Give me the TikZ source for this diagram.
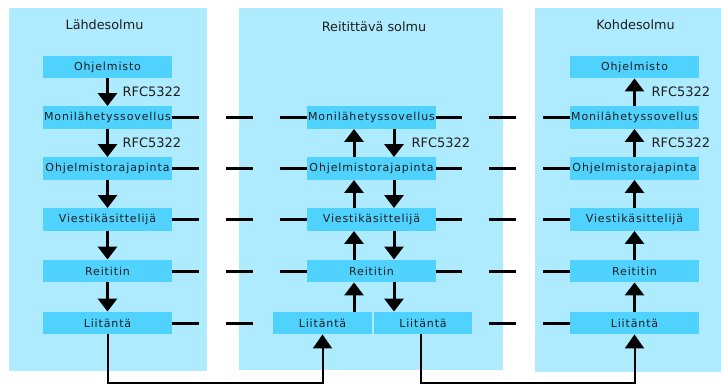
\documentclass[tikz,border=0pt]{standalone}
\usepackage{fontspec}
\setmainfont{DejaVu Sans}
\newfontfamily\boxfont[LetterSpace=8]{DejaVu Sans}
\usepackage{tikz}
\usetikzlibrary{arrows.meta}
\definecolor{panelblue}{RGB}{175,235,255}
\definecolor{boxblue}{RGB}{80,210,255}
\definecolor{textgray}{RGB}{30,30,30}

\begin{document}
\begin{tikzpicture}[x = 1pt, y = -1pt, text = textgray,
        layer/.style = {fill = boxblue, minimum width = 129pt, minimum height = 22.5pt, inner sep = 0pt,
            font = \boxfont\fontsize{11}{13}\selectfont},
        halfbox/.style = {layer, minimum width = 98.5pt},
        title/.style = {anchor = base, inner sep = 0pt, font = \fontsize{12.8}{15}\selectfont},
        rfc/.style = {inner sep = 0pt, font = \fontsize{13}{15}\selectfont},
        flow/.style = {line width = 3pt, -{Triangle[width = 19pt, length = 13pt]}},
        wire/.style = {line width = 2pt, -{Triangle[width = 19pt, length = 14pt]}},
        peer/.style = {line width = 3pt, dash pattern = on 27pt off 27pt}]
        \useasboundingbox (0,0) rectangle (721,385);

        \fill [panelblue] (9,8) rectangle (207,371);
        \fill [panelblue] (239,8) rectangle (503,370);
        \fill [panelblue] (535,8) rectangle (721,372);

        \node [title] (srctitle) at (104.5,30) {Lähdesolmu};
        \node [title] (midtitle) at (374,31.5) {Reitittävä solmu};
        \node [title] (dsttitle) at (635.5,29.3) {Kohdesolmu};

        \node [layer] (l1) at (107.5,67) {Ohjelmisto};
        \node [layer] (l2) at (107.5,117.5) {Monilähetyssovellus};
        \node [layer] (l3) at (107.5,168.5) {Ohjelmistorajapinta};
        \node [layer] (l4) at (107.5,219.5) {Viestikäsittelijä};
        \node [layer] (l5) at (107.5,271) {Reititin};
        \node [layer] (l6) at (107.5,323) {Liitäntä};

        \node [layer] (m2) at (371.5,117.5) {Monilähetyssovellus};
        \node [layer] (m3) at (371.5,168.5) {Ohjelmistorajapinta};
        \node [layer] (m4) at (371.5,219.5) {Viestikäsittelijä};
        \node [layer] (m5) at (371.5,271) {Reititin};
        \node [halfbox] (ml) at (322.5,323) {Liitäntä};
        \node [halfbox] (mr) at (423,323) {Liitäntä};

        \node [layer] (r1) at (634.5,67) {Ohjelmisto};
        \node [layer] (r2) at (634.5,117.5) {Monilähetyssovellus};
        \node [layer] (r3) at (634.5,168.5) {Ohjelmistorajapinta};
        \node [layer] (r4) at (634.5,219.5) {Viestikäsittelijä};
        \node [layer] (r5) at (634.5,271) {Reititin};
        \node [layer] (r6) at (634.5,323) {Liitäntä};

        \draw [flow] (l1) -- node [rfc, right = 13.5pt] (rfc1) {RFC5322} (l2);
        \draw [flow] (l2) -- node [rfc, right = 13.5pt] (rfc2) {RFC5322} (l3);
        \draw [flow] (l3) -- (l4);
        \draw [flow] (l4) -- (l5);
        \draw [flow] (l5) -- (l6);

        \draw [flow] ([xshift = -17.5pt]m3.north) -- ([xshift = -17.5pt]m2.south);
        \draw [flow] ([xshift = -17.5pt]m4.north) -- ([xshift = -17.5pt]m3.south);
        \draw [flow] ([xshift = -17.5pt]m5.north) -- ([xshift = -17.5pt]m4.south);
        \draw [flow] ([xshift = 31.5pt]ml.north) -- ([xshift = -17.5pt]m5.south);
        \draw [flow] ([xshift = 22.5pt]m2.south) -- node [rfc, right = 16pt] (rfc3) {RFC5322} ([xshift = 22.5pt]m3.north);
        \draw [flow] ([xshift = 22.5pt]m3.south) -- ([xshift = 22.5pt]m4.north);
        \draw [flow] ([xshift = 22.5pt]m4.south) -- ([xshift = 22.5pt]m5.north);
        \draw [flow] ([xshift = 22.5pt]m5.south) -- ([xshift = -29pt]mr.north);

        \draw [flow] (r2) -- node [rfc, right = 15.5pt] (rfc4) {RFC5322} (r1);
        \draw [flow] (r3) -- node [rfc, right = 15.5pt] (rfc5) {RFC5322} (r2);
        \draw [flow] (r4) -- (r3);
        \draw [flow] (r5) -- (r4);
        \draw [flow] (r6) -- (r5);

        \draw [peer] (l2) -- (m2);
        \draw [peer] (l3) -- (m3);
        \draw [peer] (l4) -- (m4);
        \draw [peer] (l5) -- (m5);
        \draw [peer] (l6) -- (ml);
        \draw [peer] (r2) -- (m2);
        \draw [peer] (r3) -- (m3);
        \draw [peer] (r4) -- (m4);
        \draw [peer] (r5) -- (m5);
        \draw [peer] (r6) -- (mr);

        \draw [wire] (l6.south) -- ++(0,49) -| (ml.south);
        \draw [wire] ([xshift = -2pt]mr.south) -- ++(0,49) -| (r6.south);
    \end{tikzpicture}
\end{document}
